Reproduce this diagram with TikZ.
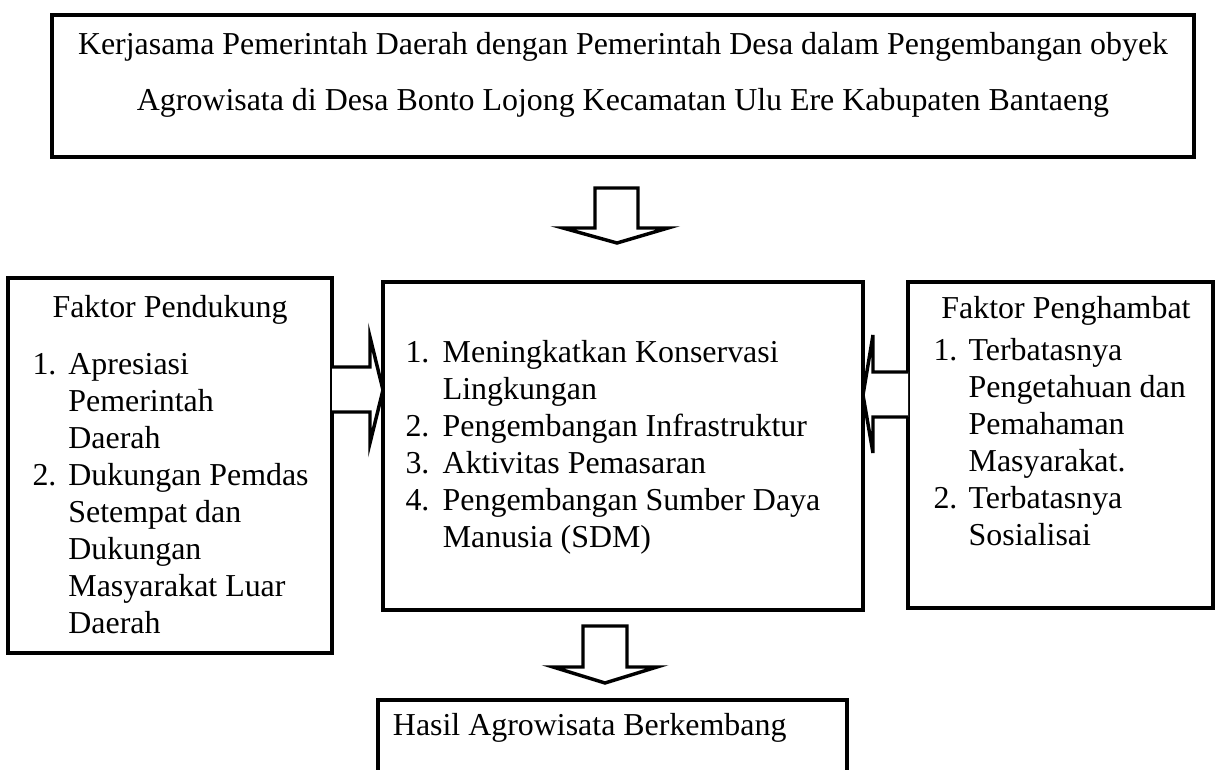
\documentclass[tikz,border=0pt]{standalone}
\usepackage{fontspec}
\setmainfont{Liberation Serif}
\usetikzlibrary{fit}

\begin{document}
\begin{tikzpicture}[x=0.376pt, y=-0.376pt,
	   box/.style={draw, line width=1.5pt, inner sep=0pt},
	   txt/.style={font=\fontsize{12pt}{13.9pt}\selectfont, inner sep=0pt, align=left},
	   blok/.style={draw, line width=1.3pt, fill=white, line join=miter}]
	  \useasboundingbox (0,0) rectangle (1223,770);
	  \clip (0,0) rectangle (1223,770);
	  \node[box, fit={(52,15) (1194,157)}] (kerjasama) {};
	  \node[txt, align=center, font=\fontsize{12pt}{21pt}\selectfont] (judul) at (623,75)
	    {Kerjasama Pemerintah Daerah dengan Pemerintah Desa dalam Pengembangan obyek\\
	     Agrowisata di Desa Bonto Lojong Kecamatan Ulu Ere Kabupaten Bantaeng};
	  \node[box, fit={(8,278) (332,653)}] (pendukung) {};
	  \node[box, fit={(383,282) (863,610)}] (strategi) {};
	  \node[box, fit={(908,282) (1213,608)}] (penghambat) {};
	  \node[box, fit={(378,700) (847,820)}] (hasil) {};
	  \node[txt] (pendukungjudul) at (170,310) {Faktor Pendukung};
	  \node[txt, anchor=north west] (pendukunglist) at (32,348)
	    {\begin{tabular}{@{}p{13.5pt}@{}l@{}}
	     1. & Apresiasi\\ & Pemerintah\\ & Daerah\\
	     2. & Dukungan Pemdas\\ & Setempat dan\\ & Dukungan\\ & Masyarakat Luar\\ & Daerah
	     \end{tabular}};
	  \node[txt, anchor=north west] (strategilist) at (405,336)
	    {\begin{tabular}{@{}p{14pt}@{}l@{}}
	     1. & Meningkatkan Konservasi\\ & Lingkungan\\
	     2. & Pengembangan Infrastruktur\\
	     3. & Aktivitas Pemasaran\\
	     4. & Pengembangan Sumber Daya\\ & Manusia (SDM)
	     \end{tabular}};
	  \node[txt] (penghambatjudul) at (1066,311) {Faktor Penghambat};
	  \node[txt, anchor=north west] (penghambatlist) at (933,334)
	    {\begin{tabular}{@{}p{13.2pt}@{}l@{}}
	     1. & Terbatasnya\\ & Pengetahuan dan\\ & Pemahaman\\ & Masyarakat.\\
	     2. & Terbatasnya\\ & Sosialisai
	     \end{tabular}};
	  \node[txt, anchor=east] (hasilteks) at (787,728) {Hasil Agrowisata Berkembang};
	  \draw[blok] (595,188) -- (638,188) -- (638,228) -- (668,228) -- (617,243)
	    -- (563,228) -- (595,228) -- cycle;
	  \draw[blok] (583,626) -- (627,626) -- (627,667) -- (657,667) -- (605,683)
	    -- (553,667) -- (583,667) -- cycle;
	  \draw[blok] (332,367) -- (370,367) -- (370,337) -- (383,390) -- (370,443)
	    -- (370,412) -- (332,412);
	  \draw[blok] (908,372) -- (873,372) -- (873,335) -- (863,395) -- (873,453)
	    -- (873,417) -- (908,417);
\end{tikzpicture}
\end{document}
